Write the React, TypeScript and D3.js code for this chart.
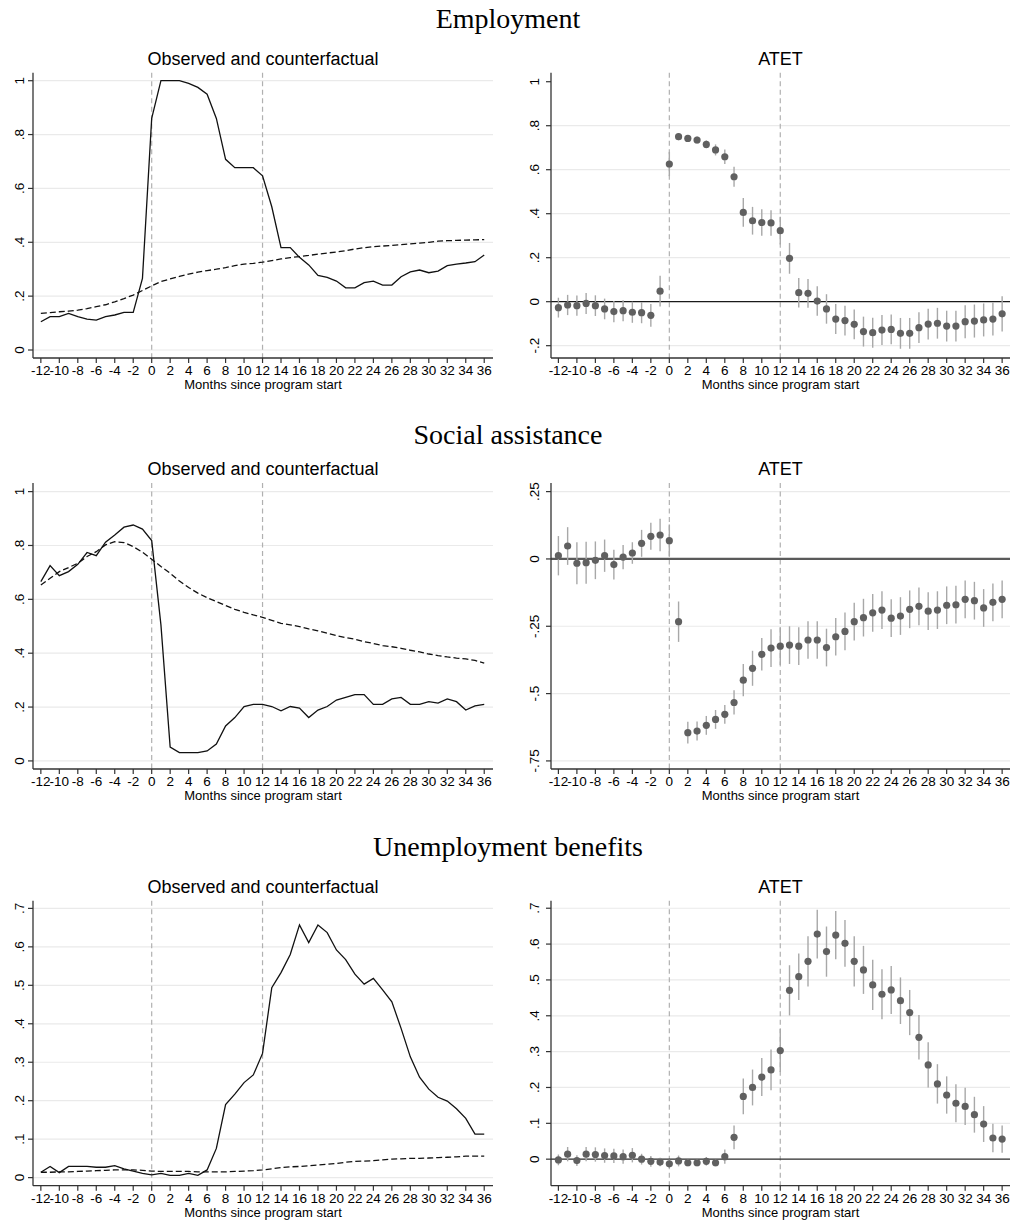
import React from "react";
import * as d3 from "d3";

// months since program start
const months = [
  -12, -11, -10, -9, -8, -7, -6, -5, -4, -3, -2, -1, 0, 1, 2, 3, 4, 5, 6, 7, 8, 9, 10, 11, 12,
  13, 14, 15, 16, 17, 18, 19, 20, 21, 22, 23, 24, 25, 26, 27, 28, 29, 30, 31, 32, 33, 34, 35, 36,
];
const xTickValues = [-12, -10, -8, -6, -4, -2, 0, 2, 4, 6, 8, 10, 12, 14, 16, 18, 20, 22, 24, 26, 28, 30, 32, 34, 36];
const programLines = [0, 12];

// Employment
const empObserved = [
  0.105, 0.124, 0.124, 0.136, 0.124, 0.115, 0.111, 0.124, 0.13, 0.14, 0.14, 0.266, 0.86, 1.0, 1.0, 1.0, 0.99,
  0.975, 0.95, 0.86, 0.708, 0.677, 0.677, 0.677, 0.647, 0.532, 0.38, 0.38, 0.344, 0.316, 0.277, 0.27, 0.256,
  0.231, 0.231, 0.25, 0.256, 0.241, 0.241, 0.272, 0.29, 0.297, 0.287, 0.293, 0.313, 0.319, 0.323, 0.328, 0.353,
];
const empCounterfactual = [
  0.136, 0.139, 0.142, 0.144, 0.148, 0.154, 0.161, 0.168, 0.179, 0.191, 0.204, 0.221, 0.238, 0.254, 0.264, 0.273,
  0.282, 0.289, 0.295, 0.3, 0.306, 0.313, 0.319, 0.322, 0.326, 0.332, 0.338, 0.343, 0.347, 0.351, 0.356, 0.36,
  0.364, 0.369, 0.375, 0.38, 0.384, 0.386, 0.388, 0.391, 0.394, 0.397, 0.4, 0.404, 0.406, 0.407, 0.408, 0.409, 0.41,
];
const empAtet = [
  -0.027, -0.015, -0.018, -0.008, -0.018, -0.033, -0.045, -0.041, -0.048, -0.05, -0.062, 0.048, 0.626, 0.75,
  0.742, 0.735, 0.715, 0.69, 0.659, 0.568, 0.406, 0.368, 0.36, 0.358, 0.323, 0.197, 0.041, 0.038, 0.003, -0.033,
  -0.079, -0.086, -0.103, -0.136, -0.141, -0.129, -0.126, -0.144, -0.144, -0.118, -0.102, -0.098, -0.111, -0.111,
  -0.091, -0.088, -0.083, -0.079, -0.055,
];
const empAtetCi = [
  0.045, 0.046, 0.046, 0.048, 0.047, 0.047, 0.048, 0.048, 0.048, 0.048, 0.052, 0.07, 0.055, 0.016, 0.016, 0.016,
  0.018, 0.025, 0.033, 0.045, 0.065, 0.063, 0.06, 0.058, 0.063, 0.07, 0.067, 0.065, 0.067, 0.067, 0.068, 0.068,
  0.068, 0.068, 0.068, 0.068, 0.068, 0.07, 0.07, 0.07, 0.07, 0.07, 0.07, 0.07, 0.075, 0.075, 0.075, 0.075, 0.08,
];

// Social assistance
const saObserved = [
  0.666, 0.725, 0.688, 0.703, 0.73, 0.774, 0.762, 0.812, 0.839, 0.868, 0.876, 0.861, 0.818, 0.505, 0.051, 0.031,
  0.031, 0.031, 0.037, 0.063, 0.13, 0.161, 0.202, 0.21, 0.21, 0.202, 0.186, 0.202, 0.196, 0.161, 0.189, 0.202,
  0.226, 0.236, 0.246, 0.246, 0.21, 0.21, 0.23, 0.236, 0.21, 0.21, 0.22, 0.215, 0.23, 0.22, 0.189, 0.204, 0.21,
];
const saCounterfactual = [
  0.653, 0.678, 0.703, 0.718, 0.734, 0.759, 0.777, 0.802, 0.814, 0.811, 0.796, 0.775, 0.749, 0.722, 0.697, 0.668,
  0.644, 0.623, 0.606, 0.592, 0.577, 0.563, 0.552, 0.542, 0.533, 0.522, 0.511, 0.505, 0.499, 0.49, 0.483, 0.474,
  0.465, 0.458, 0.452, 0.443, 0.436, 0.428, 0.424, 0.418, 0.411, 0.405, 0.397, 0.391, 0.386, 0.382, 0.379, 0.373, 0.363,
];
const saAtet = [
  0.012, 0.048, -0.016, -0.014, -0.005, 0.012, -0.021, 0.007, 0.022, 0.058, 0.084, 0.089, 0.068, -0.233, -0.645,
  -0.639, -0.618, -0.596, -0.577, -0.533, -0.45, -0.406, -0.354, -0.331, -0.324, -0.32, -0.324, -0.301, -0.301,
  -0.329, -0.289, -0.269, -0.233, -0.218, -0.2, -0.19, -0.22, -0.212, -0.187, -0.176, -0.194, -0.19, -0.172,
  -0.17, -0.15, -0.155, -0.182, -0.161, -0.15,
];
const saAtetCi = [
  0.073, 0.07, 0.078, 0.078, 0.07, 0.06, 0.055, 0.045, 0.04, 0.05, 0.05, 0.06, 0.06, 0.075, 0.04, 0.035, 0.035,
  0.035, 0.035, 0.045, 0.06, 0.065, 0.06, 0.07, 0.07, 0.07, 0.07, 0.07, 0.07, 0.07, 0.07, 0.07, 0.07, 0.07, 0.07,
  0.07, 0.07, 0.07, 0.07, 0.07, 0.07, 0.07, 0.07, 0.07, 0.07, 0.07, 0.07, 0.07, 0.07,
];

// Unemployment benefits
const ubObserved = [
  0.014, 0.029, 0.013, 0.029, 0.029, 0.029, 0.027, 0.027, 0.031, 0.023, 0.017, 0.011, 0.007, 0.011, 0.006, 0.006,
  0.011, 0.006, 0.02, 0.076, 0.19, 0.217, 0.247, 0.267, 0.323, 0.494, 0.533, 0.58, 0.657, 0.611, 0.657, 0.637,
  0.592, 0.567, 0.529, 0.503, 0.518, 0.488, 0.457, 0.388, 0.314, 0.261, 0.23, 0.209, 0.199, 0.179, 0.154, 0.113, 0.113,
];
const ubCounterfactual = [
  0.014, 0.014, 0.015, 0.015, 0.016, 0.017, 0.018, 0.019, 0.02, 0.02, 0.02, 0.019, 0.017, 0.016, 0.016, 0.016,
  0.016, 0.015, 0.015, 0.015, 0.015, 0.016, 0.017, 0.018, 0.02, 0.023, 0.026, 0.028, 0.029, 0.031, 0.033, 0.035,
  0.037, 0.04, 0.042, 0.043, 0.044, 0.046, 0.048, 0.049, 0.05, 0.05, 0.051, 0.052, 0.053, 0.054, 0.056, 0.056, 0.056,
];
const ubAtet = [
  -0.002, 0.014, -0.004, 0.014, 0.013, 0.01, 0.009, 0.007, 0.011, 0.0, -0.006, -0.008, -0.013, -0.005, -0.01,
  -0.01, -0.006, -0.01, 0.007, 0.061, 0.175, 0.2, 0.229, 0.249, 0.303, 0.471, 0.509, 0.552, 0.628, 0.579, 0.625,
  0.602, 0.552, 0.528, 0.486, 0.46, 0.472, 0.442, 0.409, 0.34, 0.263, 0.21, 0.179, 0.156, 0.147, 0.124, 0.098,
  0.059, 0.056,
];
const ubAtetCi = [
  0.015, 0.02, 0.015, 0.02, 0.02, 0.02, 0.02, 0.02, 0.02, 0.015, 0.015, 0.012, 0.012, 0.015, 0.01, 0.01, 0.012,
  0.01, 0.02, 0.033, 0.05, 0.05, 0.053, 0.057, 0.06, 0.07, 0.065, 0.07, 0.068, 0.07, 0.067, 0.065, 0.07, 0.067,
  0.07, 0.07, 0.067, 0.065, 0.063, 0.062, 0.063, 0.055, 0.052, 0.053, 0.052, 0.05, 0.05, 0.04, 0.038,
];

const unitTicks = [0, 0.2, 0.4, 0.6, 0.8, 1];
const empAtetTicks = [-0.2, 0, 0.2, 0.4, 0.6, 0.8, 1];
const saAtetTicks = [-0.75, -0.5, -0.25, 0, 0.25];
const ubTicks = [0, 0.1, 0.2, 0.3, 0.4, 0.5, 0.6, 0.7];

const SANS = "'Liberation Sans', Arial, sans-serif";
const SERIF = "'Liberation Serif', 'Times New Roman', serif";

const fmt = (v: number) => (v === 0 ? "0" : String(v).replace("0.", "."));

interface PanelProps {
  left: number;
  right: number;
  top: number;
  bottom: number;
  xDomain: [number, number];
  yDomain: [number, number];
  yTicks: number[];
  gridTicks: number[];
  labelOffset: number;
  subtitle: string;
  observed?: number[];
  counterfactual?: number[];
  atet?: number[];
  ci?: number[];
  zeroColor?: string;
  zeroWidth?: number;
}

const Panel = (p: PanelProps) => {
  const x = d3.scaleLinear().domain(p.xDomain).range([p.left, p.right]);
  const y = d3.scaleLinear().domain(p.yDomain).range([p.bottom, p.top]);
  const line = d3
    .line<number>()
    .x((d, i) => x(months[i]))
    .y((d) => y(d));

  return (
    <g>
      <text x={(p.left + p.right) / 2} y={p.top - 8} textAnchor="middle" fontFamily={SANS} fontSize={18}>
        {p.subtitle}
      </text>
      {p.gridTicks.map((t) => (
        <line key={"g" + t} x1={p.left} x2={p.right} y1={y(t)} y2={y(t)} stroke="#eaeaea" strokeWidth={1.2} />
      ))}
      {programLines.map((m) => (
        <line
          key={"v" + m}
          x1={x(m)}
          x2={x(m)}
          y1={p.top}
          y2={p.bottom}
          stroke="#b0b0b0"
          strokeWidth={1.2}
          strokeDasharray="5,3.5"
        />
      ))}
      {p.atet && (
        <line x1={p.left} x2={p.right} y1={y(0)} y2={y(0)} stroke={p.zeroColor} strokeWidth={p.zeroWidth} />
      )}
      {p.counterfactual && (
        <path d={line(p.counterfactual) || ""} fill="none" stroke="#111" strokeWidth={1.3} strokeDasharray="6,3" />
      )}
      {p.observed && <path d={line(p.observed) || ""} fill="none" stroke="#111" strokeWidth={1.3} />}
      {p.atet &&
        p.atet.map((v, i) => (
          <line
            key={"ci" + i}
            x1={x(months[i])}
            x2={x(months[i])}
            y1={y(v - p.ci![i])}
            y2={y(v + p.ci![i])}
            stroke="#a8a8a8"
            strokeWidth={1.4}
          />
        ))}
      {p.atet &&
        p.atet.map((v, i) => <circle key={"pt" + i} cx={x(months[i])} cy={y(v)} r={3.6} fill="#606060" />)}
      {/* y axis */}
      <line x1={p.left} x2={p.left} y1={p.top} y2={p.bottom} stroke="#333" strokeWidth={1.3} />
      {p.yTicks.map((t) => (
        <g key={"yt" + t}>
          <line x1={p.left - 5} x2={p.left} y1={y(t)} y2={y(t)} stroke="#333" strokeWidth={1.2} />
          <text
            transform={`translate(${p.left - p.labelOffset},${y(t)}) rotate(-90)`}
            textAnchor="middle"
            fontFamily={SANS}
            fontSize={13.5}
          >
            {fmt(t)}
          </text>
        </g>
      ))}
      {/* x axis */}
      <line x1={p.left} x2={p.right} y1={p.bottom} y2={p.bottom} stroke="#333" strokeWidth={1.3} />
      {xTickValues.map((t) => (
        <g key={"xt" + t}>
          <line x1={x(t)} x2={x(t)} y1={p.bottom} y2={p.bottom + 5} stroke="#333" strokeWidth={1.2} />
          <text x={x(t)} y={p.bottom + 17} textAnchor="middle" fontFamily={SANS} fontSize={13.5}>
            {t}
          </text>
        </g>
      ))}
      <text x={(p.left + p.right) / 2} y={p.bottom + 31} textAnchor="middle" fontFamily={SANS} fontSize={13}>
        Months since program start
      </text>
    </g>
  );
};

const LEFT = { left: 33, right: 493, xDomain: [-12.85, 36.95] as [number, number], labelOffset: 9.5 };
const RIGHT = { left: 551, right: 1010, xDomain: [-12.8, 36.85] as [number, number], labelOffset: 12.5 };
const rows = [
  { title: "Employment", titleY: 28, top: 72.7, bottom: 358 },
  { title: "Social assistance", titleY: 444, top: 483, bottom: 769 },
  { title: "Unemployment benefits", titleY: 856, top: 900.7, bottom: 1185.7 },
];

export default function App() {
  return (
    <svg
      width={1012}
      height={1223}
      style={{ position: "absolute", left: 0, top: 0, background: "#fff" }}
    >
      <rect width={1012} height={1223} fill="#fff" />
      {rows.map((r) => (
        <text key={r.title} x={508} y={r.titleY} textAnchor="middle" fontFamily={SERIF} fontSize={28}>
          {r.title}
        </text>
      ))}

      <Panel
        {...LEFT}
        top={rows[0].top}
        bottom={rows[0].bottom}
        yDomain={[-0.0297, 1.0297]}
        yTicks={unitTicks}
        gridTicks={unitTicks}
        subtitle="Observed and counterfactual"
        observed={empObserved}
        counterfactual={empCounterfactual}
      />
      <Panel
        {...RIGHT}
        top={rows[0].top}
        bottom={rows[0].bottom}
        yDomain={[-0.256, 1.041]}
        yTicks={empAtetTicks}
        gridTicks={[-0.2, 0.2, 0.4, 0.6, 0.8]}
        subtitle="ATET"
        atet={empAtet}
        ci={empAtetCi}
        zeroColor="#1a1a1a"
        zeroWidth={1.3}
      />

      <Panel
        {...LEFT}
        top={rows[1].top}
        bottom={rows[1].bottom}
        yDomain={[-0.03, 1.032]}
        yTicks={unitTicks}
        gridTicks={unitTicks}
        subtitle="Observed and counterfactual"
        observed={saObserved}
        counterfactual={saCounterfactual}
      />
      <Panel
        {...RIGHT}
        top={rows[1].top}
        bottom={rows[1].bottom}
        yDomain={[-0.78, 0.282]}
        yTicks={saAtetTicks}
        gridTicks={[-0.75, -0.5, -0.25, 0.25]}
        subtitle="ATET"
        atet={saAtet}
        ci={saAtetCi}
        zeroColor="#5a5a5a"
        zeroWidth={2.2}
      />

      <Panel
        {...LEFT}
        top={rows[2].top}
        bottom={rows[2].bottom}
        yDomain={[-0.021, 0.72]}
        yTicks={ubTicks}
        gridTicks={ubTicks}
        subtitle="Observed and counterfactual"
        observed={ubObserved}
        counterfactual={ubCounterfactual}
      />
      <Panel
        {...RIGHT}
        top={rows[2].top}
        bottom={rows[2].bottom}
        yDomain={[-0.074, 0.721]}
        yTicks={ubTicks}
        gridTicks={[0.1, 0.2, 0.3, 0.4, 0.5, 0.6, 0.7]}
        subtitle="ATET"
        atet={ubAtet}
        ci={ubAtetCi}
        zeroColor="#2a2a2a"
        zeroWidth={1.4}
      />
    </svg>
  );
}
